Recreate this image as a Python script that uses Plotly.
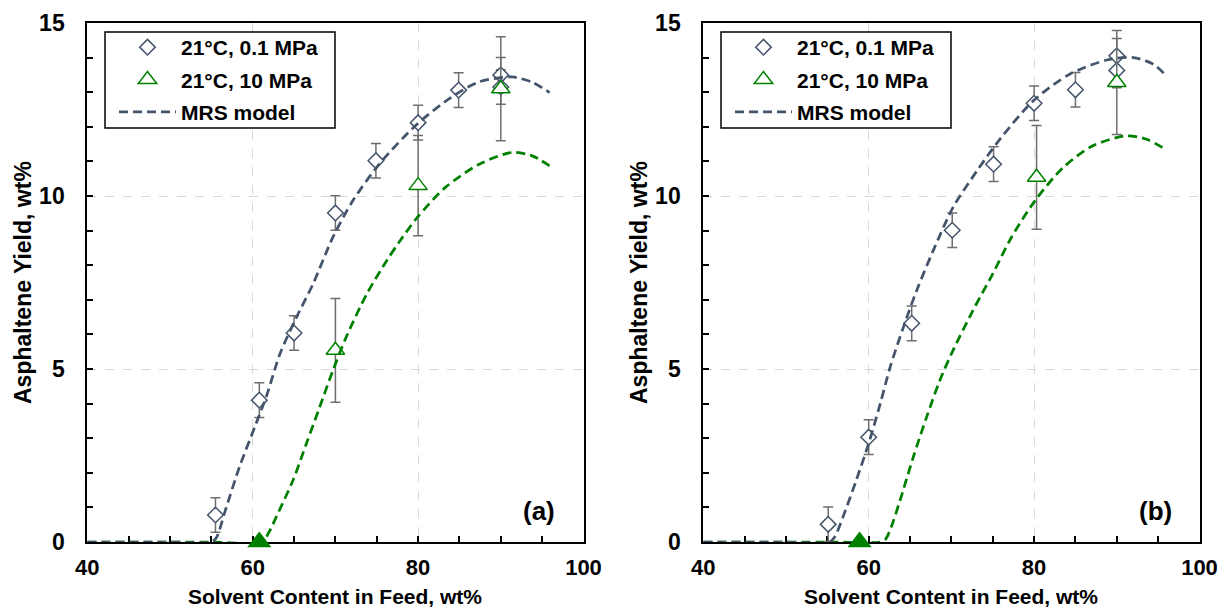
import plotly.graph_objects as go

W, H = 1221, 609

# ---------------- panel (a) data ----------------
a_x_01 = [55.5, 60.8, 65.0, 70.0, 74.9, 80.0, 84.9, 90.0, 90.0]
a_y_01 = [0.78, 4.10, 6.04, 9.51, 11.02, 12.12, 13.06, 13.50, 13.15]
a_err_01 = [0.5, 0.5, 0.5, 0.5, 0.5, 0.5, 0.5, 0.5, 0.5]

a_x_10 = [70.0, 80.0, 90.0]
a_y_10 = [5.54, 10.30, 13.10]
a_err_10 = [1.5, 1.45, 1.5]

a_onset_x = [60.8]
a_onset_y = [0.0]

a_model01_x = [40.0, 50.0, 55.0, 55.6, 56.7, 58.4, 60.26, 61.7, 63.3, 65.3, 67.3, 69.7,
               72.1, 75.4, 79.9, 84.0, 87.4, 91.4, 93.85, 95.9]
a_model01_y = [0.0, 0.0, 0.0, 0.12, 0.92, 2.17, 3.33, 4.24, 5.44, 6.50, 7.46, 8.81,
               9.86, 10.95, 12.08, 12.85, 13.30, 13.44, 13.28, 12.99]

a_model10_x = [40.0, 55.0, 61.1, 62.0, 62.9, 64.9, 66.5, 68.1, 69.7, 71.3, 73.8, 76.2,
               77.8, 79.9, 83.3, 87.4, 91.4, 93.8, 95.9]
a_model10_y = [0.0, 0.0, 0.0, 0.3, 0.75, 1.80, 2.85, 3.90, 4.96, 5.92, 7.17, 8.13,
               8.70, 9.38, 10.25, 10.92, 11.26, 11.16, 10.87]

# ---------------- panel (b) data ----------------
b_x_01 = [55.1, 60.0, 65.2, 70.1, 75.1, 80.0, 85.0, 90.0, 90.0]
b_y_01 = [0.51, 3.03, 6.32, 9.01, 10.92, 12.68, 13.07, 14.05, 13.63]
b_err_01 = [0.5, 0.5, 0.5, 0.5, 0.5, 0.5, 0.5, 0.5, 0.5]

b_x_10 = [80.3, 90.0]
b_y_10 = [10.54, 13.28]
b_err_10 = [1.5, 1.5]

b_onset_x = [58.9]
b_onset_y = [0.0]

b_model01_x = [40.0, 50.0, 55.3, 55.9, 56.9, 58.5, 60.0, 61.4, 62.6, 64.2, 65.8, 67.8,
               70.2, 73.1, 75.9, 79.9, 84.3, 88.8, 92.0, 94.4, 96.0]
b_model01_y = [0.0, 0.0, 0.0, 0.15, 0.73, 1.79, 2.85, 4.00, 5.06, 6.21, 7.27, 8.42,
               9.67, 10.73, 11.65, 12.75, 13.52, 13.93, 14.00, 13.81, 13.47]

b_model10_x = [40.0, 55.0, 61.4, 62.0, 62.6, 63.8, 65.4, 67.0, 68.6, 70.2, 72.6, 75.0,
               77.2, 80.1, 83.5, 87.1, 91.2, 93.6, 95.8]
b_model10_y = [0.0, 0.0, 0.0, 0.07, 0.35, 1.21, 2.46, 3.61, 4.67, 5.54, 6.69, 7.75,
               8.78, 9.86, 10.82, 11.45, 11.74, 11.64, 11.36]

# ---------------- styles ----------------
GRAY = "#44546A"
GREEN = "#008000"
ERR = "#6E6E6E"
FONT = "Arial, Liberation Sans, sans-serif"
DASH = "9px,5px"

fig = go.Figure()


def add_panel(xa, ya, legend, x01, y01, e01, x10, y10, e10, ox, oy, m01x, m01y, m10x, m10y, grp):
    fig.add_trace(go.Scatter(
        x=x01, y=y01, mode="markers", name="21°C, 0.1 MPa",
        xaxis=xa, yaxis=ya, legend=legend, legendgroup=grp + "1",
        marker=dict(symbol="diamond", size=12, color="white",
                    line=dict(color=GRAY, width=1.5)),
        error_y=dict(type="data", array=e01, visible=True, color=ERR,
                     thickness=1.5, width=5),
        cliponaxis=False))
    fig.add_trace(go.Scatter(
        x=x10, y=y10, mode="markers", name="21°C, 10 MPa",
        xaxis=xa, yaxis=ya, legend=legend, legendgroup=grp + "2",
        marker=dict(symbol="triangle-up", size=16, color="white",
                    line=dict(color=GREEN, width=1.5)),
        error_y=dict(type="data", array=e10, visible=True, color=ERR,
                     thickness=1.5, width=5),
        cliponaxis=False))
    fig.add_trace(go.Scatter(
        x=m10x, y=m10y, mode="lines", showlegend=False,
        xaxis=xa, yaxis=ya,
        line=dict(color=GREEN, width=2.75, dash=DASH, shape="spline", smoothing=0.8)))
    fig.add_trace(go.Scatter(
        x=m01x, y=m01y, mode="lines", name="MRS model",
        xaxis=xa, yaxis=ya, legend=legend, legendgroup=grp + "3",
        line=dict(color=GRAY, width=2.75, dash=DASH, shape="spline", smoothing=0.8)))
    fig.add_trace(go.Scatter(
        x=ox, y=oy, mode="markers", showlegend=False,
        xaxis=xa, yaxis=ya,
        marker=dict(symbol="triangle-up", size=21, color=GREEN,
                    line=dict(color=GREEN, width=0)),
        cliponaxis=False))


add_panel("x", "y", "legend", a_x_01, a_y_01, a_err_01, a_x_10, a_y_10, a_err_10,
          a_onset_x, a_onset_y, a_model01_x, a_model01_y, a_model10_x, a_model10_y, "a")
add_panel("x2", "y2", "legend2", b_x_01, b_y_01, b_err_01, b_x_10, b_y_10, b_err_10,
          b_onset_x, b_onset_y, b_model01_x, b_model01_y, b_model10_x, b_model10_y, "b")

# plot-area geometry (pixels)
LEFT_A, RIGHT_A = 87.3, 583.5
OFF = 616.0
TOP, BOTTOM = 23.0, 542.0


def xa_dict(dom, anchor):
    return dict(domain=dom, range=[40, 100], tick0=40, dtick=20, anchor=anchor,
                ticks="inside", ticklen=6, tickwidth=1.5, tickcolor="black",
                minor=dict(dtick=5, ticks="inside", ticklen=6, tickwidth=1.5,
                           tickcolor="black", showgrid=False),
                showgrid=True, gridcolor="#D9D9D9", griddash="dash", gridwidth=1,
                showline=True, linecolor="black", linewidth=2, mirror=True,
                zeroline=False, layer="below traces", ticklabelstandoff=5,
                automargin=False,
                tickfont=dict(family=FONT, size=22, color="black", weight="bold"))


def ya_dict(dom, anchor):
    return dict(domain=dom, range=[0, 15], tick0=0, dtick=5, anchor=anchor,
                ticks="inside", ticklen=6, tickwidth=1.5, tickcolor="black",
                minor=dict(dtick=1, ticks="inside", ticklen=6, tickwidth=1.5,
                           tickcolor="black", showgrid=False),
                showgrid=True, gridcolor="#D9D9D9", griddash="dash", gridwidth=1,
                showline=True, linecolor="black", linewidth=2, mirror=True,
                zeroline=False, layer="below traces", ticklabelstandoff=16,
                automargin=False,
                tickfont=dict(family=FONT, size=23, color="black", weight="bold"))


ydom = [1 - BOTTOM / H, 1 - TOP / H]
leg_font = dict(family=FONT, size=21, color="black", weight="bold")


def leg(xpx, ypx):
    return dict(x=xpx / W, y=1 - ypx / H, xanchor="left", yanchor="top",
                xref="paper", yref="paper",
                bgcolor="rgba(0,0,0,0)", borderwidth=0, font=leg_font,
                itemwidth=57, tracegroupgap=2, traceorder="grouped")


shapes = []
for off in (0, OFF):
    shapes.append(dict(type="rect", xref="paper", yref="paper",
                       x0=(105 + off) / W, x1=(335 + off) / W,
                       y0=1 - 128 / H, y1=1 - 32 / H,
                       fillcolor="white", line=dict(color="black", width=1.5),
                       layer="above"))

annotations = []
for off, tag in ((0, "(a)"), (OFF, "(b)")):
    annotations.append(dict(text=tag, x=(539 + off) / W, y=1 - 511 / H,
                            xref="paper", yref="paper", showarrow=False,
                            xanchor="center", yanchor="middle",
                            font=dict(family=FONT, size=26, color="black", weight="bold")))
    annotations.append(dict(text="Solvent Content in Feed, wt%",
                            x=(335.4 + off) / W, y=0.0,
                            xref="paper", yref="paper", showarrow=False,
                            xanchor="center", yanchor="bottom", borderpad=0,
                            font=dict(family=FONT, size=21, color="black", weight="bold")))
    annotations.append(dict(text="Asphaltene Yield, wt%", textangle=-90,
                            x=(23 + off) / W, y=1 - 283 / H,
                            xref="paper", yref="paper", showarrow=False,
                            xanchor="center", yanchor="middle",
                            font=dict(family=FONT, size=23, color="black", weight="bold")))

fig.update_layout(
    width=W, height=H, margin=dict(l=0, r=0, t=0, b=0, pad=0),
    paper_bgcolor="white", plot_bgcolor="white",
    xaxis=xa_dict([LEFT_A / W, RIGHT_A / W], "y"),
    yaxis=ya_dict(ydom, "x"),
    xaxis2=xa_dict([(LEFT_A + OFF) / W, (RIGHT_A + OFF) / W], "y2"),
    yaxis2=ya_dict(ydom, "x2"),
    legend=leg(114, 27),
    legend2=leg(114 + OFF, 27),
    shapes=shapes,
    annotations=annotations,
)

fig.write_html("out.html")
